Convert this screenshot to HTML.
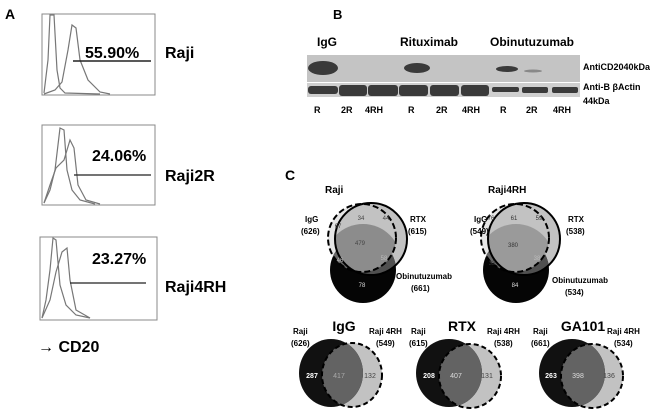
<!DOCTYPE html>
<html><head><meta charset="utf-8"><style>
html,body{margin:0;padding:0;background:#fff;}
svg{display:block;font-family:"Liberation Sans",sans-serif;}
.b{font-weight:bold;}
</style></head><body>
<svg width="650" height="412" viewBox="0 0 650 412" xmlns="http://www.w3.org/2000/svg">
<defs>
<clipPath id="igg1"><circle cx="362" cy="238" r="34"/></clipPath>
<clipPath id="rtx1"><circle cx="371" cy="239" r="36"/></clipPath>
<clipPath id="obi1"><circle cx="363" cy="270" r="33"/></clipPath>
<clipPath id="igg2"><circle cx="515" cy="238" r="34"/></clipPath>
<clipPath id="rtx2"><circle cx="524" cy="239" r="36"/></clipPath>
<clipPath id="obi2"><circle cx="516" cy="270" r="33"/></clipPath>
<clipPath id="d1"><ellipse cx="331" cy="373" rx="32" ry="34"/></clipPath>
<clipPath id="d2"><ellipse cx="449" cy="373" rx="33" ry="34"/></clipPath>
<clipPath id="d3"><ellipse cx="572" cy="373" rx="33" ry="34"/></clipPath>
</defs>

<!-- Panel A -->
<text x="5" y="19" class="b" font-size="14">A</text>
<g fill="none" stroke="#888" stroke-width="1">
<rect x="42" y="14" width="113" height="81"/>
<rect x="42" y="125" width="113" height="80"/>
<rect x="40" y="237" width="117" height="83"/>
</g>
<g fill="none" stroke="#777" stroke-width="1.2">
<path d="M44,93 L48,60 L50,15 L54,15 L57,70 L60,88 L65,93 L100,94"/>
<path d="M44,94 L55,90 L62,82 L68,50 L72,25 L76,28 L80,60 L88,80 L100,92 L110,94"/>
<path d="M44,203 L50,190 L55,170 L60,128 L64,130 L67,170 L72,190 L80,200 L95,204"/>
<path d="M44,203 L50,185 L56,168 L64,160 L70,140 L74,148 L78,185 L86,200 L100,204"/>
<path d="M42,318 L46,300 L50,270 L53,238 L56,240 L60,285 L66,305 L76,315 L90,318"/>
<path d="M42,318 L50,300 L56,272 L62,252 L67,248 L70,280 L76,310 L90,318"/>
</g>
<line x1="73" y1="61" x2="151" y2="61" stroke="#222" stroke-width="1.5"/>
<line x1="74" y1="175" x2="151" y2="175" stroke="#222" stroke-width="1.2"/>
<line x1="70" y1="283" x2="146" y2="283" stroke="#222" stroke-width="1.2"/>
<text x="85" y="58" class="b" font-size="16">55.90%</text>
<text x="92" y="161" class="b" font-size="16">24.06%</text>
<text x="92" y="264" class="b" font-size="16">23.27%</text>
<text x="165" y="58" class="b" font-size="16">Raji</text>
<text x="165" y="181" class="b" font-size="16">Raji2R</text>
<text x="165" y="292" class="b" font-size="16">Raji4RH</text>
<text x="38" y="352" class="b" font-size="16">→ CD20</text>

<!-- Panel B -->
<text x="333" y="19" class="b" font-size="13">B</text>
<text x="317" y="46" class="b" font-size="12">IgG</text>
<text x="400" y="46" class="b" font-size="12">Rituximab</text>
<text x="490" y="46" class="b" font-size="12">Obinutuzumab</text>
<rect x="307" y="55" width="273" height="27" fill="#c4c4c4"/>
<rect x="307" y="83" width="273" height="14" fill="#cfcfcf"/>
<g fill="#3a3a3a">
<ellipse cx="323" cy="68" rx="15" ry="7"/>
<ellipse cx="417" cy="68" rx="13" ry="5"/>
<ellipse cx="507" cy="69" rx="11" ry="3"/>
<ellipse cx="533" cy="71" rx="9" ry="1.5" fill="#888"/>
<rect x="308" y="86" width="30" height="8" rx="3"/>
<rect x="339" y="85" width="28" height="11" rx="3"/>
<rect x="368" y="85" width="30" height="11" rx="3"/>
<rect x="399" y="85" width="29" height="11" rx="3"/>
<rect x="430" y="85" width="29" height="11" rx="3"/>
<rect x="461" y="85" width="28" height="11" rx="3"/>
<rect x="492" y="87" width="27" height="5" rx="2"/>
<rect x="522" y="87" width="26" height="6" rx="2"/>
<rect x="552" y="87" width="26" height="6" rx="2"/>
</g>
<g class="b" font-size="9">
<text x="314" y="113">R</text><text x="341" y="113">2R</text><text x="365" y="113">4RH</text>
<text x="408" y="113">R</text><text x="436" y="113">2R</text><text x="462" y="113">4RH</text>
<text x="500" y="113">R</text><text x="526" y="113">2R</text><text x="553" y="113">4RH</text>
</g>
<g class="b" font-size="9">
<text x="583" y="70">AntiCD2040kDa</text>
<text x="583" y="90">Anti-B βActin</text>
<text x="583" y="104">44kDa</text>
</g>

<!-- Panel C -->
<text x="285" y="180" class="b" font-size="14">C</text>
<text x="325" y="193" class="b" font-size="10">Raji</text>
<text x="488" y="193" class="b" font-size="10">Raji4RH</text>

<!-- Venn 1 -->
<circle cx="362" cy="238" r="34" fill="#e6e6e6"/>
<circle cx="371" cy="239" r="36" fill="#c2c2c2"/>
<circle cx="363" cy="270" r="33" fill="#050505"/>
<g clip-path="url(#obi1)"><circle cx="371" cy="239" r="36" fill="#505050"/><circle cx="362" cy="238" r="34" fill="#676767"/></g>
<g clip-path="url(#igg1)"><g clip-path="url(#rtx1)"><circle cx="363" cy="262" r="38" fill="#8c8c8c"/></g></g>
<circle cx="362" cy="238" r="34" fill="none" stroke="#000" stroke-width="2" stroke-dasharray="6,3"/>
<circle cx="371" cy="239" r="36" fill="none" stroke="#000" stroke-width="2"/>
<g font-size="6" fill="#444" text-anchor="middle">
<text x="338" y="228">67</text><text x="361" y="220">34</text><text x="386" y="220">44</text>
<text x="360" y="245">479</text><text x="384" y="260" fill="#bbb">58</text><text x="340" y="262" fill="#bbb">46</text>
<text x="362" y="287" fill="#ddd">78</text></g>
<g class="b" font-size="8">
<text x="305" y="222">IgG</text><text x="301" y="234">(626)</text>
<text x="410" y="222">RTX</text><text x="408" y="234">(615)</text>
<text x="396" y="279">Obinutuzumab</text><text x="411" y="291">(661)</text>
</g>

<!-- Venn 2 -->
<circle cx="515" cy="238" r="34" fill="#e6e6e6"/>
<circle cx="524" cy="239" r="36" fill="#c2c2c2"/>
<circle cx="516" cy="270" r="33" fill="#050505"/>
<g clip-path="url(#obi2)"><circle cx="524" cy="239" r="36" fill="#505050"/><circle cx="515" cy="238" r="34" fill="#676767"/></g>
<g clip-path="url(#igg2)"><g clip-path="url(#rtx2)"><circle cx="516" cy="262" r="38" fill="#9a9a9a"/></g></g>
<circle cx="515" cy="238" r="34" fill="none" stroke="#000" stroke-width="2" stroke-dasharray="6,3"/>
<circle cx="524" cy="239" r="36" fill="none" stroke="#000" stroke-width="2"/>
<g font-size="6" fill="#333" text-anchor="middle">
<text x="491" y="220">76</text><text x="514" y="220">61</text><text x="539" y="220">59</text>
<text x="513" y="247">380</text><text x="537" y="260" fill="#bbb">38</text><text x="492" y="265">32</text>
<text x="515" y="287" fill="#ddd">84</text></g>
<g class="b" font-size="8">
<text x="474" y="222">IgG</text><text x="470" y="234">(549)</text>
<text x="568" y="222">RTX</text><text x="566" y="234">(538)</text>
<text x="552" y="283">Obinutuzumab</text><text x="565" y="295">(534)</text>
</g>

<!-- Bottom Venns -->
<g class="b" font-size="14" text-anchor="middle">
<text x="344" y="331">IgG</text><text x="462" y="331">RTX</text><text x="583" y="331">GA101</text>
</g>
<!-- 1 -->
<ellipse cx="352" cy="375" rx="30" ry="32" fill="#c2c2c2"/>
<ellipse cx="331" cy="373" rx="32" ry="34" fill="#111"/>
<g clip-path="url(#d1)"><ellipse cx="352" cy="375" rx="30" ry="32" fill="#636363"/></g>
<ellipse cx="352" cy="375" rx="30" ry="32" fill="none" stroke="#000" stroke-width="2" stroke-dasharray="5,3"/>
<!-- 2 -->
<ellipse cx="470" cy="376" rx="31" ry="32" fill="#c2c2c2"/>
<ellipse cx="449" cy="373" rx="33" ry="34" fill="#111"/>
<g clip-path="url(#d2)"><ellipse cx="470" cy="376" rx="31" ry="32" fill="#636363"/></g>
<ellipse cx="470" cy="376" rx="31" ry="32" fill="none" stroke="#000" stroke-width="2" stroke-dasharray="5,3"/>
<!-- 3 -->
<ellipse cx="592" cy="376" rx="31" ry="32" fill="#c2c2c2"/>
<ellipse cx="572" cy="373" rx="33" ry="34" fill="#111"/>
<g clip-path="url(#d3)"><ellipse cx="592" cy="376" rx="31" ry="32" fill="#636363"/></g>
<ellipse cx="592" cy="376" rx="31" ry="32" fill="none" stroke="#000" stroke-width="2" stroke-dasharray="5,3"/>
<g font-size="7" text-anchor="middle">
<text x="312" y="378" fill="#fff" class="b">287</text><text x="339" y="378" fill="#aaa">417</text><text x="370" y="378" fill="#444">132</text>
<text x="429" y="378" fill="#fff" class="b">208</text><text x="456" y="378" fill="#ddd">407</text><text x="487" y="378" fill="#444">131</text>
<text x="551" y="378" fill="#fff" class="b">263</text><text x="578" y="378" fill="#ddd">398</text><text x="609" y="378" fill="#444">136</text>
</g>
<g class="b" font-size="8">
<text x="293" y="334">Raji</text><text x="291" y="346">(626)</text>
<text x="369" y="334">Raji 4RH</text><text x="376" y="346">(549)</text>
<text x="411" y="334">Raji</text><text x="409" y="346">(615)</text>
<text x="487" y="334">Raji 4RH</text><text x="494" y="346">(538)</text>
<text x="533" y="334">Raji</text><text x="531" y="346">(661)</text>
<text x="607" y="334">Raji 4RH</text><text x="614" y="346">(534)</text>
</g>
</svg>
</body></html>
